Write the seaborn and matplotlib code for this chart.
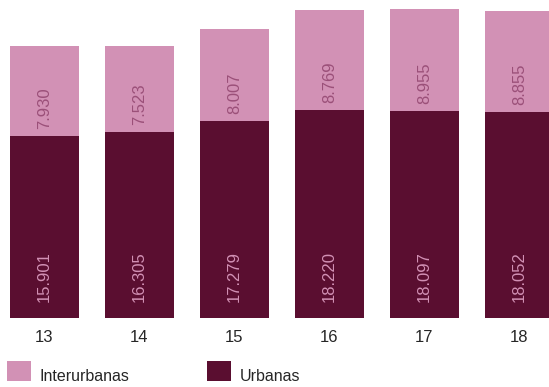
import matplotlib
matplotlib.use("Agg")
import matplotlib.pyplot as plt
from matplotlib.patches import Patch
import pandas as pd
import seaborn as sns

# values
years = ["13", "14", "15", "16", "17", "18"]
urbanas = [15901, 16305, 17279, 18220, 18097, 18052]
interurbanas = [7930, 7523, 8007, 8769, 8955, 8855]

PINK = "#d291b5"
DARK = "#5a0e30"
PINK_TXT = "#9b5079"


def fmt(v):
    return f"{v:,}".replace(",", ".")


df = pd.DataFrame({"year": years, "urbanas": urbanas, "interurbanas": interurbanas})
df["total"] = df["urbanas"] + df["interurbanas"]

sns.set_style("white")
plt.rcParams["font.family"] = ["Liberation Sans", "DejaVu Sans"]

fig = plt.figure(figsize=(5.49, 3.87), dpi=100)
ax = fig.add_axes([0, 0.179, 1, 0.821])

# stacked look: total bar in pink, urban part drawn over it
sns.barplot(data=df, x="year", y="total", color=PINK, saturation=1, width=0.726,
            linewidth=0, edgecolor="none", ax=ax)
sns.barplot(data=df, x="year", y="urbanas", color=DARK, saturation=1, width=0.726,
            linewidth=0, edgecolor="none", ax=ax)

ax.set_xlim(-0.468, 5.311)
ax.set_ylim(0, 27850)
ax.set_xlabel("")
ax.set_ylabel("")
ax.set_yticks([])
ax.tick_params(axis="x", length=0, pad=8.5, labelsize=12)
sns.despine(ax=ax, left=True, bottom=True)

# value labels, anchored at the bottom of each segment
for i in range(len(years)):
    ax.annotate(fmt(urbanas[i]), (i, 0), xytext=(0, 11.5), textcoords="offset points",
                rotation=90, ha="center", va="bottom", fontsize=12, color=PINK)
    ax.annotate(fmt(interurbanas[i]), (i, urbanas[i]), xytext=(0, 5), textcoords="offset points",
                rotation=90, ha="center", va="bottom", fontsize=12, color=PINK_TXT)

handles = [Patch(facecolor=PINK, edgecolor="none"), Patch(facecolor=DARK, edgecolor="none")]
leg = fig.legend(handles, ["Interurbanas", "Urbanas"], loc="lower left",
                 bbox_to_anchor=(0.012, 0.016), ncol=2, frameon=False, fontsize=11.5,
                 handlelength=1.5, handleheight=1.55, handletextpad=0.55,
                 columnspacing=4.9, borderpad=0, borderaxespad=0)
# reference puts legend text on the bottom line of the squares
for t in leg.get_texts():
    t.set_position((0, -5))

fig.savefig("out.png", dpi=100)
